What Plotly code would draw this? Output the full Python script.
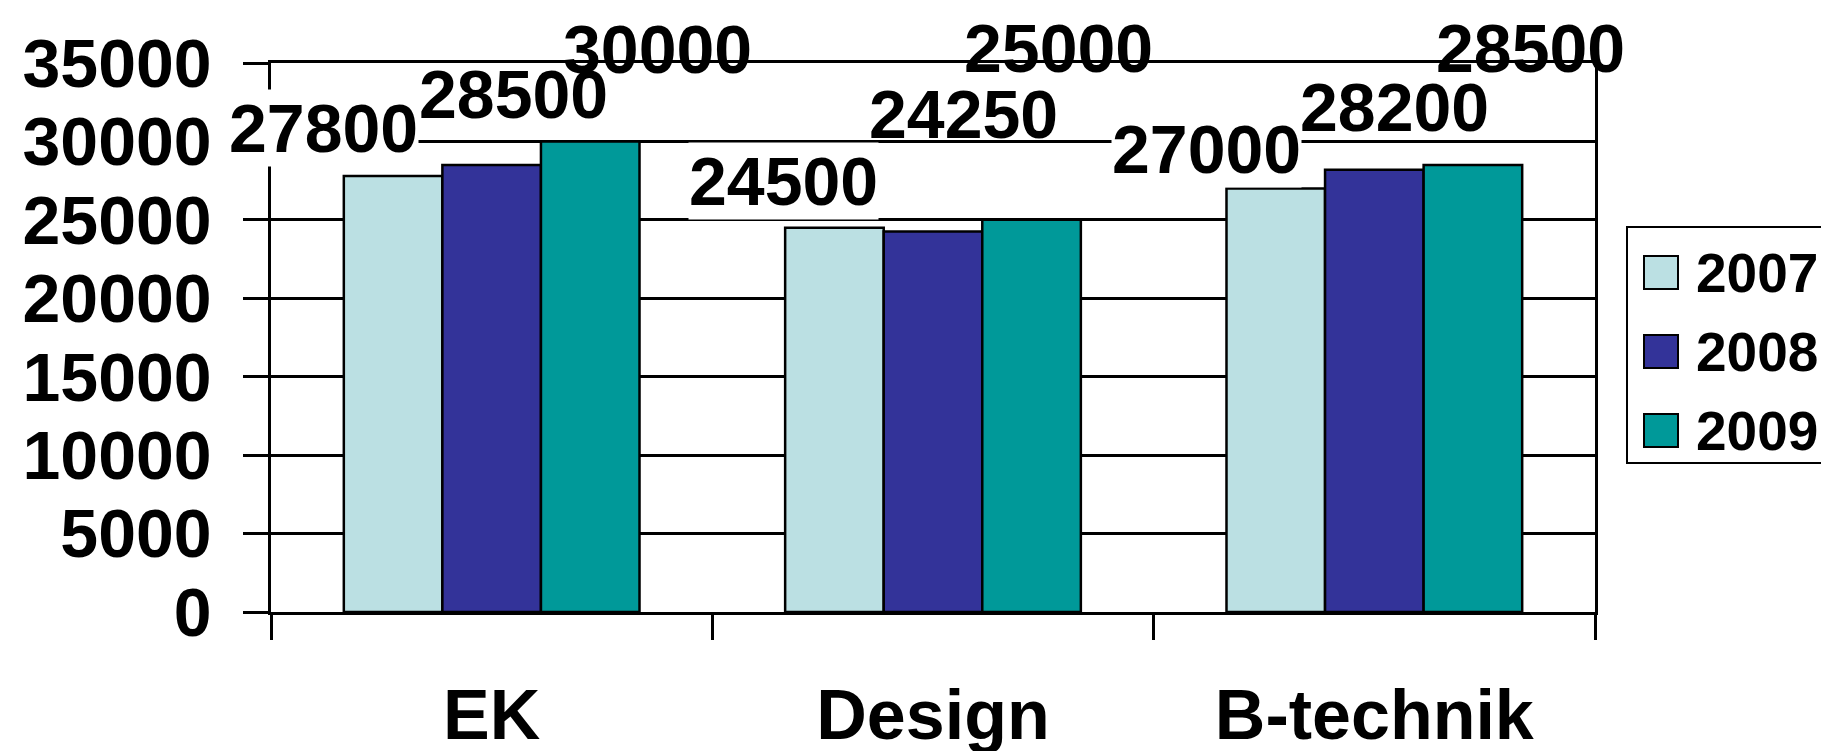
import plotly.graph_objects as go

# ---- data ----
categories = ["EK", "Design", "B-technik"]
series_names = ["2007", "2008", "2009"]
values_2007 = [27800, 24500, 27000]
values_2008 = [28500, 24250, 28200]
values_2009 = [30000, 25000, 28500]
y_ticks = [0, 5000, 10000, 15000, 20000, 25000, 30000, 35000]

# ---- style ----
colors = ["#BBE0E3", "#333399", "#009999"]
label_bg = ["white", "rgba(0,0,0,0)", "rgba(0,0,0,0)"]
# manual label placement (pixels, relative to bar top centre), per series x category
label_dx = [[-70, -51, -69], [22, 30, 20], [67, 27, 58]]
label_dy = [[48, 47, 39], [71, 118, 63], [92, 172, 117]]

W, H = 1829, 751
L, R, T, B = 263, 242, 55, 147
BARGAP = 0.33
FONT = "Liberation Sans, Arial, sans-serif"
LW = 2.5

series_values = [values_2007, values_2008, values_2009]

fig = go.Figure()
for name, vals, col in zip(series_names, series_values, colors):
    fig.add_trace(go.Bar(
        name=name, x=categories, y=vals,
        marker=dict(color=col, line=dict(color="black", width=LW)),
        showlegend=False,
    ))

# data labels
nser = len(series_names)
bw = (1 - BARGAP) / nser
annotations = []
for i, vals in enumerate(series_values):
    for j, v in enumerate(vals):
        annotations.append(dict(
            x=j + (i - (nser - 1) / 2) * bw, y=v, xref="x", yref="y",
            text=str(v), showarrow=False,
            xanchor="center", yanchor="middle",
            xshift=label_dx[i][j], yshift=label_dy[i][j],
            font=dict(family=FONT, size=68, color="black", weight="bold"),
            bgcolor=label_bg[i], borderpad=0,
        ))

# custom legend (large swatches like the original)
pw, ph = W - L - R, H - T - B
def px(x):
    return (x - L) / pw
def py(y):
    return (H - B - y) / ph

shapes = [dict(type="rect", xref="paper", yref="paper",
               x0=px(1619), x1=px(1828), y0=py(455), y1=py(219),
               line=dict(color="black", width=2), fillcolor="white", layer="above")]
for k, (name, col) in enumerate(zip(series_names, colors)):
    cy = 264.5 + 79 * k
    shapes.append(dict(type="rect", xref="paper", yref="paper",
                       x0=px(1636), x1=px(1670), y0=py(cy + 16.5), y1=py(cy - 16.5),
                       line=dict(color="black", width=2), fillcolor=col, layer="above"))
    annotations.append(dict(x=px(1686), y=py(cy), xref="paper", yref="paper",
                            text=name, showarrow=False, xanchor="left", yanchor="middle",
                            font=dict(family=FONT, size=55, color="black", weight="bold")))

fig.update_layout(
    width=W, height=H, autosize=False,
    margin=dict(l=L, r=R, t=T, b=B, pad=0),
    paper_bgcolor="white", plot_bgcolor="white",
    barmode="group", bargap=BARGAP, bargroupgap=0,
    font=dict(family=FONT, color="black"),
    annotations=annotations, shapes=shapes,
    showlegend=False,
)
fig.update_xaxes(
    range=[-0.5, len(categories) - 0.5], autorange=False, automargin=False,
    showline=True, linecolor="black", linewidth=LW, mirror=True,
    ticks="outside", tickson="boundaries", ticklen=25, tickwidth=LW, tickcolor="black",
    tickfont=dict(family=FONT, size=70, color="black", weight="bold"),
    ticklabelstandoff=40, showgrid=False,
)
fig.update_yaxes(
    range=[0, 35000], autorange=False, automargin=False,
    tickvals=y_ticks, tickformat="d",
    showline=True, linecolor="black", linewidth=LW, mirror=True,
    ticks="outside", ticklen=25, tickwidth=LW, tickcolor="black",
    showgrid=True, gridcolor="black", gridwidth=LW, zeroline=False,
    tickfont=dict(family=FONT, size=68, color="black", weight="bold"),
    ticklabelstandoff=18,
)

fig.write_html("out.html")
